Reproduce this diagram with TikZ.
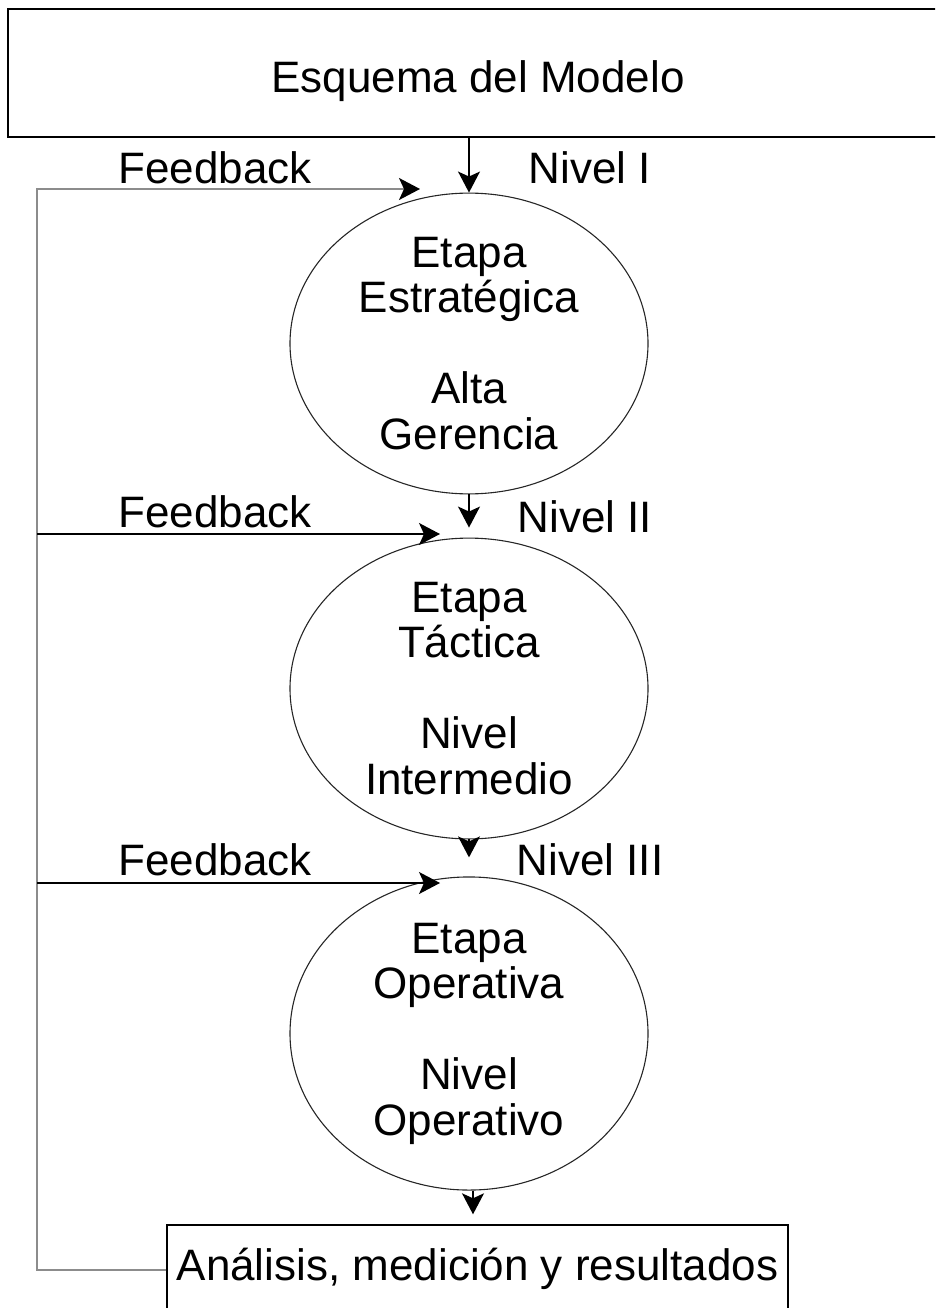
\documentclass[tikz,border=0pt]{standalone}
\usepackage{fontspec}
\setmainfont{Liberation Sans}
\usetikzlibrary{shapes.geometric, arrows.meta, positioning}

\begin{document}
\begin{tikzpicture}[x=1pt,y=-1pt,
  txt/.style={inner sep=0pt,font=\fontsize{44}{45.5}\selectfont},
  box/.style={txt,draw,line width=1.4pt},
  etapa/.style={txt,draw=black!85,ellipse,line width=1.1pt,minimum width=358pt,minimum height=283pt,align=center},
  arr/.style={-{Stealth[length=21pt,width=22pt,inset=5pt,color=black]},line width=1.3pt},
  fb/.style={arr,draw=black!45,line width=1.7pt}]
\clip (0,0) rectangle (935,1308);

\node[box,minimum width=940pt,minimum height=128pt,text height=42pt,text depth=2.5pt] (title) at (478,73) {Esquema del Modelo};

\node[etapa] (e1) at (469,343.5) {Etapa\\Estratégica\\[45.5pt]Alta\\Gerencia};
\node[etapa] (e2) at (469,688.5) {Etapa\\Táctica\\[45.5pt]Nivel\\Intermedio};
\node[etapa] (e3) at (469,1033.5) {Etapa\\Operativa\\[45.5pt]Nivel\\Operativo};

\node[box,minimum width=621pt,minimum height=90pt,text height=31.5pt,text depth=11pt] (res) at (477.5,1270) {Análisis, medición y resultados};

% niveles y feedback
\node[txt] (nI) at (590,168) {Nivel I};
\node[txt] (nII) at (585,517) {Nivel II};
\node[txt] (nIII) at (590,860) {Nivel III};
\node[txt] (fI) at (215,168) {Feedback};
\node[txt] (fII) at (215,512) {Feedback};
\node[txt] (fIII) at (215,860) {Feedback};

\draw[arr] (e1.north |- title.south) -- (e1.north);
\draw[arr,shorten >=10pt] (e1.south) -- (e2.north);
\draw[arr,shorten >=19pt] (e2.south) -- (e3.north);
\draw[arr,shorten >=10pt] ([xshift=4pt]e3.south) -- ([xshift=4pt]e3.south |- res.north);

\coordinate (trunk) at (37,189);
\coordinate (inI) at (420,189);
\coordinate (inII) at (440,534);
\coordinate (inIII) at (440,883);
\draw[fb] (res.west) -| (trunk) -- (inI);
\draw[arr] (trunk |- inII) -- (inII);
\draw[arr] (trunk |- inIII) -- (inIII);
\end{tikzpicture}
\end{document}
